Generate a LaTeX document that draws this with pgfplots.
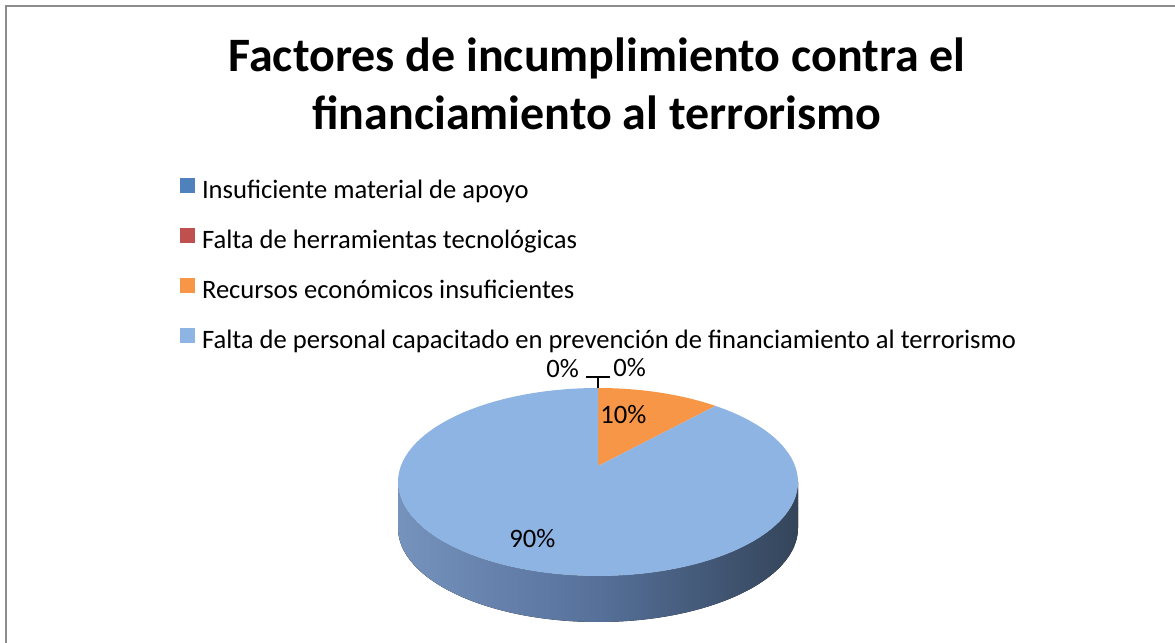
\documentclass[border=0pt]{standalone}
\usepackage{fontspec}
\setmainfont{Carlito}
\usepackage{pgfplots}
\usepackage{pgfplotstable}
\pgfplotsset{compat=1.18}
\definecolor{c0}{HTML}{4F81BD}
\definecolor{c1}{HTML}{C0504D}
\definecolor{c2}{HTML}{F79646}
\definecolor{c3}{HTML}{8EB4E3}
\definecolor{sideL}{HTML}{7593BD}
\definecolor{sideM}{HTML}{56709A}
\definecolor{sideR}{HTML}{34455A}
\definecolor{framegray}{HTML}{8C8C8C}

\pgfplotstableread{
cat value
0 0
1 0
2 10
3 90
}\piedata

\begin{document}
\begin{tikzpicture}
\gdef\cum{0}
\foreach \i in {0,...,3}{%
  \pgfplotstablegetelem{\i}{value}\of\piedata
  \let\val\pgfplotsretval
  \pgfmathsetmacro{\tmpS}{90-3.6*\cum}%
  \pgfmathsetmacro{\tmpE}{90-3.6*(\cum+\val)}%
  \expandafter\xdef\csname s\i\endcsname{\tmpS}%
  \expandafter\xdef\csname e\i\endcsname{\tmpE}%
  \pgfmathsetmacro{\newcum}{\cum+\val}%
  \xdef\cum{\newcum}%
}
\begin{axis}[name=ax,
  width=587.5pt, height=321.5pt, scale only axis,
  xmin=0, xmax=1175, ymin=0, ymax=643,
  hide axis, clip=false,
  legend cell align=left,
  legend image code/.code={\fill[#1] (0pt,0pt) rectangle (7.5pt,7.5pt);},
  legend style={at={(0.1532,0.7236)}, anchor=north west, draw=none, fill=none,
    inner sep=0pt, outer sep=0pt, row sep=11.5pt, column sep=3.5pt,
    nodes={inner sep=0pt, text height=9pt, text depth=3pt,
      font=\fontsize{13.3}{15}\selectfont}},
]
\addlegendimage{fill=c0, draw=none}
\addlegendentry{Insuficiente material de apoyo}
\addlegendimage{fill=c1, draw=none}
\addlegendentry{Falta de herramientas tecnológicas}
\addlegendimage{fill=c2, draw=none}
\addlegendentry{Recursos económicos insuficientes}
\addlegendimage{fill=c3, draw=none}
\addlegendentry{Falta de personal capacitado en prevención de financiamiento al terrorismo}

% frame
\draw[framegray, line width=1pt] (axis cs:6,-20) -- (axis cs:6,637) -- (axis cs:1195,637);

% title
\node[anchor=base, inner sep=0pt, font=\fontsize{24}{28}\selectfont\bfseries] at (axis cs:597,571) {Factores de incumplimiento contra el};
\node[anchor=base, inner sep=0pt, font=\fontsize{24}{28}\selectfont\bfseries] at (axis cs:597,513) {financiamiento al terrorismo};

% pie side
\fill[left color=sideL, right color=sideR, middle color=sideM]
  (axis cs:398,161) arc[start angle=180, end angle=360, x radius=100pt, y radius=47pt]
  -- ++(0pt,-23pt) arc[start angle=360, end angle=180, x radius=100pt, y radius=47pt] -- cycle;

% pie top slices
\pgfplotsinvokeforeach{0,...,3}{%
  \edef\temp{\noexpand\fill[c#1] (axis cs:598,177) -- ([shift={(\csname s#1\endcsname:100pt and 47pt)}]axis cs:598,161)
    arc[start angle=\csname s#1\endcsname, end angle=\csname e#1\endcsname, x radius=100pt, y radius=47pt] -- cycle;}%
  \temp
}

% leader lines
\draw[line width=0.7pt] (axis cs:586,266) -- (axis cs:610,266);
\draw[line width=0.7pt] (axis cs:598,266) -- (axis cs:598,255);

% data labels
\node[anchor=base west, inner sep=0pt, font=\fontsize{13.3}{15}\selectfont] at (axis cs:546,265) {0\%};
\node[anchor=base west, inner sep=0pt, font=\fontsize{13.3}{15}\selectfont] at (axis cs:613,266) {0\%};
\node[anchor=base west, inner sep=0pt, font=\fontsize{13.3}{15}\selectfont] at (axis cs:600,219) {10\%};
\node[anchor=base west, inner sep=0pt, font=\fontsize{13.3}{15}\selectfont] at (axis cs:509,95) {90\%};
\end{axis}
\pgfresetboundingbox
\path (ax.south west) rectangle (ax.north east);
\end{tikzpicture}
\end{document}
